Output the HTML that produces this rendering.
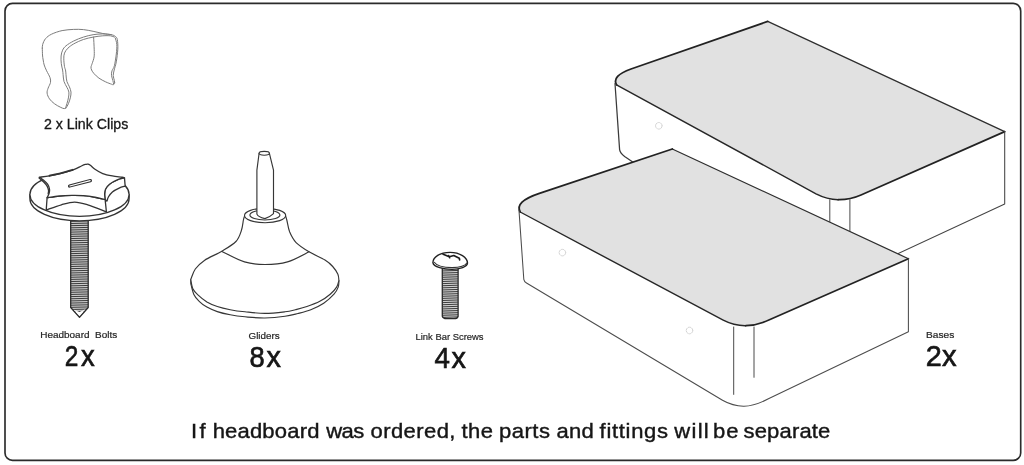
<!DOCTYPE html>
<html>
<head>
<meta charset="utf-8">
<title>Parts</title>
<style>
html,body{margin:0;padding:0;background:#fff;}
body{width:1024px;height:465px;overflow:hidden;font-family:"Liberation Sans",sans-serif;}
svg{display:block;}
text{font-family:"Liberation Sans",sans-serif;}
</style>
</head>
<body>
<svg width="1024" height="465" viewBox="0 0 1024 465">
<rect x="0" y="0" width="1024" height="465" fill="#ffffff"/>
<!-- FRAME -->
<rect x="5" y="3.4" width="1015.7" height="457" rx="7.5" ry="7.5" fill="none" stroke="#2b2b2b" stroke-width="1.65"/>
<!-- BOXES -->
<g id="boxes" stroke-linejoin="round" stroke-linecap="round" fill="none">
<path d="M767.7 21.4 L631 69 Q612 75.5 615 83.5 L619.6 149.6 C620 153 622 154.5 625 156.8 L632 161.5 L861 290 L1004.7 203.9 L1004.7 131.6 Z" fill="#fff" stroke="none"/>
<path d="M767.7 21.4 L631 69 Q611.5 76 616.5 84.8 L816 193.8 Q838 205 861 195 L1004.7 131.6 Z" fill="#e1e1e1" stroke="none"/>
<path d="M1004.7 131.6 L767.7 21.4" stroke="#2e2e2e" stroke-width="1.25"/>
<path d="M616.5 84.8 L816 193.8 Q827 199.4 838.25 199.7" stroke="#262626" stroke-width="1.4"/>
<path d="M767.7 21.4 L631 69 Q611.5 76 616.5 84.8" stroke="#222" stroke-width="1.8"/>
<path d="M838.25 199.7 Q849.5 200 861 195 L1004.7 131.6" stroke="#222" stroke-width="1.7"/>
<path d="M615 83.5 L619.6 149.6 C620 153 622 154.5 625 156.8 L632 161.5 L700 200" stroke="#3a3a3a" stroke-width="1.25"/>
<path d="M829.8 199.7 V240 M849.9 199.7 V240" stroke="#4a4a4a" stroke-width="1"/>
<path d="M1004.7 131.6 V203.9 L880 262" stroke="#444" stroke-width="1.05"/>
<circle cx="658.8" cy="125.8" r="3.3" fill="none" stroke="#cfcfcf" stroke-width="0.9" stroke-dasharray="2.4 1.1"/>
<path d="M672.3 149 L539.4 193.3 Q515 201 518.8 210 L523.8 279.3 Q524.3 281.8 526.5 283 L722.5 400.3 C730 404.6 737 406.3 744 406.2 C752 406 760 403.2 768.4 398.8 L908.4 331.8 L908.4 258.7 Z" fill="#fff" stroke="none"/>
<path d="M672.3 149 L539.4 193.3 Q514.3 201.6 520.2 212 L723.2 320.2 Q745 331.5 770 319.5 L908.4 258.7 Z" fill="#e1e1e1" stroke="none"/>
<path d="M908.4 258.7 L672.3 149" stroke="#2e2e2e" stroke-width="1.25"/>
<path d="M520.2 212 L723.2 320.2 Q734.1 325.85 745.8 325.68" stroke="#262626" stroke-width="1.4"/>
<path d="M672.3 149 L539.4 193.3 Q514.3 201.6 520.2 212" stroke="#222" stroke-width="1.8"/>
<path d="M745.8 325.68 Q757.5 325.5 770 319.5 L908.4 258.7" stroke="#222" stroke-width="1.7"/>
<path d="M519 210.5 L523.8 279.3 Q524.3 281.8 526.5 283 L722.5 400.3 C730 404.6 737 406.3 744 406.2 C752 406 760 403.2 768.4 398.8 L908.4 331.8 V258.7" stroke="#4c4c4c" stroke-width="1.05"/>
<path d="M733.7 327 V394.4 M754 327 V377.3" stroke="#4a4a4a" stroke-width="1"/>
<circle cx="562.4" cy="252.6" r="3.3" fill="none" stroke="#cfcfcf" stroke-width="0.9" stroke-dasharray="2.4 1.1"/>
<circle cx="689.5" cy="330.5" r="3.3" fill="none" stroke="#cfcfcf" stroke-width="0.9" stroke-dasharray="2.4 1.1"/>
</g>
<!-- LINK CLIP -->
<g fill="none" stroke="#7c7c7c" stroke-width="1" stroke-linecap="round" stroke-linejoin="round">
<path d="M42.3 48.2 C42.4 47.6 42.2 46.0 42.7 44.4 C43.2 42.8 44.1 40.3 45.6 38.6 C47.1 36.9 48.8 35.5 51.5 34.2 C54.2 32.9 58.4 31.4 62.1 30.6 C65.8 29.8 70.2 29.6 73.7 29.4 C77.2 29.2 80.2 29.3 83.4 29.6 C86.6 29.9 89.9 30.7 93.1 31.3 C96.3 31.9 99.7 32.9 102.8 33.5 C105.9 34.1 109.4 34.2 111.5 34.7 C113.6 35.2 114.3 35.6 115.3 36.4 C116.3 37.2 116.9 37.4 117.3 39.5 C117.7 41.6 118.0 45.5 117.8 49.2 C117.6 52.9 116.9 58.3 116.3 61.8 C115.7 65.3 114.7 67.7 114.2 70.0 C113.7 72.3 113.2 73.8 113.2 75.6 C113.2 77.3 114.2 79.3 114.4 80.5 C114.6 81.7 114.6 82.5 114.6 82.9"/>
<path d="M42.3 48.2 C42.3 49.3 42.4 53.0 42.5 55.0 C42.6 57.0 42.9 58.3 43.2 60.0 C43.5 61.7 43.6 63.2 44.2 65.0 C44.8 66.8 45.6 68.7 46.6 70.8 C47.6 72.9 49.4 75.7 50.0 77.6 C50.6 79.5 50.8 80.6 50.5 82.4 C50.2 84.2 48.7 86.4 48.1 88.2 C47.5 90.0 46.9 91.3 47.1 93.1 C47.3 94.9 48.3 97.1 49.5 98.9 C50.7 100.7 52.6 102.3 54.4 103.7 C56.2 105.1 58.6 106.3 60.2 107.1 C61.8 107.9 63.0 108.5 64.0 108.6 C65.0 108.7 65.7 107.8 66.0 107.6"/>
<path d="M111.5 34.7 C110.0 34.6 105.9 33.9 102.8 33.9 C99.7 33.9 96.3 34.2 93.1 34.7 C89.9 35.2 86.6 36.1 83.4 37.1 C80.2 38.1 76.6 39.5 73.7 41.0 C70.8 42.5 67.8 44.3 66.0 45.8 C64.2 47.3 63.4 48.5 62.6 50.2 C61.8 51.9 61.3 53.8 61.1 56.0 C60.9 58.2 61.0 61.4 61.3 63.7 C61.5 66.0 62.3 68.2 62.6 70.0 C62.9 71.8 62.9 72.8 63.1 74.7 C63.3 76.6 63.4 79.4 64.0 81.5 C64.6 83.6 66.1 85.5 66.9 87.3 C67.7 89.1 68.7 90.3 68.9 92.1 C69.2 93.9 68.7 96.0 68.4 97.9 C68.1 99.8 67.4 102.0 66.9 103.7 C66.4 105.4 65.7 107.4 65.5 108.1"/>
<path d="M114.4 37.1 C113.8 36.9 112.4 36.0 110.5 35.8 C108.6 35.6 105.7 35.6 102.8 35.8 C99.9 36.0 96.3 36.5 93.1 37.1 C89.9 37.7 86.6 38.4 83.4 39.5 C80.2 40.6 76.3 42.4 73.7 43.9 C71.1 45.4 69.4 46.7 67.9 48.2 C66.4 49.7 65.2 51.3 64.5 53.1 C63.8 54.9 63.8 56.6 63.8 58.9 C63.8 61.1 64.2 64.8 64.5 66.6 C64.8 68.4 65.2 68.7 65.5 70.0 C65.8 71.3 65.8 72.8 66.0 74.7 C66.2 76.6 66.3 79.5 66.9 81.5 C67.5 83.5 68.7 85.0 69.4 86.8 C70.1 88.6 70.8 90.2 71.0 92.1 C71.2 93.9 70.7 96.0 70.3 97.9 C69.9 99.8 69.1 102.0 68.4 103.7 C67.7 105.4 66.4 107.4 66.0 108.1"/>
<path d="M93.6 37.1 C93.7 39.1 94.1 45.9 94.2 49.2 C94.3 52.5 94.4 54.5 94.1 56.9 C93.8 59.3 92.6 62.0 92.1 63.7 C91.6 65.4 91.1 66.0 91.0 67.0 C90.9 68.0 91.1 68.9 91.6 70.0 C92.1 71.1 92.9 72.4 94.1 73.7 C95.3 75.0 97.0 76.7 98.9 78.1 C100.8 79.5 103.6 80.9 105.7 81.9 C107.8 82.9 110.2 83.7 111.5 84.2 C112.8 84.7 112.9 84.9 113.4 84.7 C113.9 84.5 114.4 83.2 114.6 82.9"/>
<path d="M115.3 38.1 C115.5 39.1 116.6 41.8 116.8 44.4 C117.0 47.0 116.7 50.5 116.3 54.0 C115.9 57.5 115.1 62.9 114.4 65.7 C113.7 68.5 112.5 69.2 112.0 70.8 C111.5 72.4 111.3 74.0 111.5 75.6 C111.7 77.2 112.6 79.1 112.9 80.5 C113.2 81.9 113.5 83.3 113.6 83.9"/>
</g>
<!-- HEADBOARD BOLT -->
<clipPath id="c1"><path d="M70.7 216 V307.5 L79.5 317.2 L88.2 307.5 V216 Z"/></clipPath>
<path d="M70.7 216 V307.5 L79.5 317.2 L88.2 307.5 V216 Z" fill="#e0e0e0"/>
<path d="M70.0 221.60 L89.0 222.00 M70.0 223.47 L89.0 223.87 M70.0 225.34 L89.0 225.74 M70.0 227.21 L89.0 227.61 M70.0 229.08 L89.0 229.48 M70.0 230.95 L89.0 231.35 M70.0 232.82 L89.0 233.22 M70.0 234.69 L89.0 235.09 M70.0 236.56 L89.0 236.96 M70.0 238.43 L89.0 238.83 M70.0 240.30 L89.0 240.70 M70.0 242.17 L89.0 242.57 M70.0 244.04 L89.0 244.44 M70.0 245.91 L89.0 246.31 M70.0 247.78 L89.0 248.18 M70.0 249.65 L89.0 250.05 M70.0 251.52 L89.0 251.92 M70.0 253.39 L89.0 253.79 M70.0 255.26 L89.0 255.66 M70.0 257.13 L89.0 257.53 M70.0 259.00 L89.0 259.40 M70.0 260.87 L89.0 261.27 M70.0 262.74 L89.0 263.14 M70.0 264.61 L89.0 265.01 M70.0 266.48 L89.0 266.88 M70.0 268.35 L89.0 268.75 M70.0 270.22 L89.0 270.62 M70.0 272.09 L89.0 272.49 M70.0 273.96 L89.0 274.36 M70.0 275.83 L89.0 276.23 M70.0 277.70 L89.0 278.10 M70.0 279.57 L89.0 279.97 M70.0 281.44 L89.0 281.84 M70.0 283.31 L89.0 283.71 M70.0 285.18 L89.0 285.58 M70.0 287.05 L89.0 287.45 M70.0 288.92 L89.0 289.32 M70.0 290.79 L89.0 291.19 M70.0 292.66 L89.0 293.06 M70.0 294.53 L89.0 294.93 M70.0 296.40 L89.0 296.80 M70.0 298.27 L89.0 298.67 M70.0 300.14 L89.0 300.54 M70.0 302.01 L89.0 302.41 M70.0 303.88 L89.0 304.28 M70.0 305.75 L89.0 306.15 M70.0 307.62 L89.0 308.02 M70.0 309.49 L89.0 309.89 M70.0 311.36 L89.0 311.76 " clip-path="url(#c1)" fill="none" stroke="#333" stroke-width="0.95"/>
<path d="M70.7 216 V307.5 L79.5 317.2 L88.2 307.5 V216 Z" fill="none" stroke="#2a2a2a" stroke-width="1.3" stroke-linejoin="round"/>
<path d="M73.5 309.5 L79.5 312 L85.5 309.2 L79.5 316 Z" fill="#fff" stroke="none"/>
<g transform="translate(35,160) scale(0.09674)" fill="none" stroke="#333" stroke-width="13.5" stroke-linecap="round" stroke-linejoin="round">
<path d="M-52.7 355.6 V401 A512.7 227.4 0 0 0 972.7 401 V355.6 Z" fill="#fff"/>
<ellipse cx="460" cy="355.6" rx="512.7" ry="227.4" fill="#fff"/>
<path d="M925 185 L932 270 L932.0 270.0 C921.7 273.3 892.0 280.0 870.0 290.0 C848.0 300.0 818.3 315.0 800.0 330.0 C781.7 345.0 769.3 364.2 760.0 380.0 C750.7 395.8 746.7 417.5 744.0 425.0 L725 410 L725.0 410.0 C724.2 400.0 719.2 368.3 720.0 350.0 C720.8 331.7 721.7 316.7 730.0 300.0 C738.3 283.3 750.0 265.8 770.0 250.0 C790.0 234.2 824.2 215.8 850.0 205.0 C875.8 194.2 912.5 188.3 925.0 185.0 Z" fill="#fff"/>
<path d="M125 390 L116 517 L116.0 517.0 C142.2 508.0 224.2 476.7 273.0 463.0 C321.8 449.3 363.7 435.0 409.0 435.0 C454.3 435.0 490.2 446.3 545.0 463.0 C599.8 479.7 705.8 523.0 738.0 535.0 L725 410 L725.0 410.0 C707.5 405.8 657.5 392.0 620.0 385.0 C582.5 378.0 540.0 371.3 500.0 368.0 C460.0 364.7 421.7 364.3 380.0 365.0 C338.3 365.7 292.5 367.8 250.0 372.0 C207.5 376.2 145.8 387.0 125.0 390.0 Z" fill="#fff"/>
<path d="M42.0 186.0 C50.0 193.0 76.2 214.0 90.0 228.0 C103.8 242.0 116.7 255.5 125.0 270.0 C133.3 284.5 138.2 301.7 140.0 315.0 C141.8 328.3 136.7 344.2 136.0 350.0"/>
<path d="M45.0 178.0 C62.5 175.8 110.8 172.2 150.0 165.0 C189.2 157.8 238.3 145.8 280.0 135.0 C321.7 124.2 366.7 112.2 400.0 100.0 C433.3 87.8 460.0 71.0 480.0 62.0 C500.0 53.0 509.2 49.3 520.0 46.0 C530.8 42.7 540.8 42.7 545.0 42.0 L545.0 42.0 C549.5 44.0 559.5 45.2 572.0 54.0 C584.5 62.8 598.7 80.7 620.0 95.0 C641.3 109.3 670.0 128.3 700.0 140.0 C730.0 151.7 766.7 158.7 800.0 165.0 C833.3 171.3 879.2 174.7 900.0 178.0 C920.8 181.3 920.8 183.8 925.0 185.0 L925.0 185.0 C912.5 188.3 875.8 194.2 850.0 205.0 C824.2 215.8 790.0 234.2 770.0 250.0 C750.0 265.8 738.3 283.3 730.0 300.0 C721.7 316.7 720.8 331.7 720.0 350.0 C719.2 368.3 724.2 400.0 725.0 410.0 L725.0 410.0 C707.5 405.8 657.5 392.0 620.0 385.0 C582.5 378.0 540.0 371.3 500.0 368.0 C460.0 364.7 421.7 364.3 380.0 365.0 C338.3 365.7 292.5 367.8 250.0 372.0 C207.5 376.2 145.8 387.0 125.0 390.0 L125.0 390.0 C128.5 382.5 141.8 360.0 146.0 345.0 C150.2 330.0 152.7 315.8 150.0 300.0 C147.3 284.2 140.0 265.0 130.0 250.0 C120.0 235.0 104.2 222.0 90.0 210.0 C75.8 198.0 52.5 183.3 45.0 178.0 Z" fill="#fff"/>
<path d="M150.0 163.0 C171.7 158.0 240.0 143.3 280.0 133.0 C320.0 122.7 371.7 106.3 390.0 101.0" stroke-width="19"/>
<path d="M357 269 L573 213" stroke="#333" stroke-width="33"/>
<path d="M360 268.2 L570 213.8" stroke="#fff" stroke-width="12"/>
</g>
<!-- GLIDER -->
<g fill="none" stroke="#363636" stroke-width="1.15" stroke-linecap="round" stroke-linejoin="round">
<path d="M190.8 283.5 C191.3 285.4 192.6 291.8 194.0 294.8 C195.4 297.8 197.0 299.2 199.2 301.3 C201.3 303.4 203.9 305.4 206.9 307.1 C209.9 308.8 213.4 310.3 217.3 311.6 C221.2 312.9 225.6 313.9 230.2 314.8 C234.8 315.7 239.2 316.3 245.0 316.8 C250.8 317.3 258.2 318.1 264.9 318.0 C271.6 317.9 279.5 317.1 285.0 316.3 C290.5 315.6 293.6 314.6 297.9 313.5 C302.2 312.4 306.5 311.4 310.8 309.7 C315.1 308.0 319.8 305.8 323.7 303.2 C327.6 300.6 331.6 296.9 334.0 294.2 C336.4 291.5 337.4 289.2 338.2 287.1 C339.0 285.0 338.8 282.4 338.9 281.5 L338.9 280.6 L190.8 279.4 Z" fill="#fff"/>
<path d="M244.5 216.3 C244.3 216.9 243.9 217.6 243.4 220.0 C242.9 222.4 242.6 227.1 241.3 230.7 C240.1 234.3 239.1 238.1 235.9 241.5 C232.7 244.9 227.2 248.0 221.9 251.2 C216.7 254.3 208.8 257.4 204.4 260.4 C200.0 263.4 197.6 265.8 195.3 269.0 C193.0 272.2 191.6 277.7 190.8 279.4 L190.8 279.4 C191.1 280.9 191.5 285.8 192.7 288.4 C193.9 291.0 195.5 292.6 197.9 294.8 C200.3 297.1 203.7 299.9 206.9 301.9 C210.1 303.8 213.4 305.2 217.3 306.5 C221.2 307.8 225.6 308.8 230.2 309.7 C234.8 310.6 239.2 311.2 245.0 311.8 C250.8 312.4 258.2 313.4 264.9 313.4 C271.6 313.4 279.9 312.4 285.0 311.8 C290.1 311.2 291.7 310.6 295.3 309.7 C298.9 308.8 302.8 307.9 306.9 306.5 C311.0 305.1 315.9 303.4 319.8 301.3 C323.7 299.2 327.4 296.6 330.2 294.2 C333.0 291.8 335.2 289.4 336.6 287.1 C338.1 284.8 338.5 281.7 338.9 280.6 L338.9 280.6 C338.7 279.5 338.9 276.6 337.9 274.2 C336.9 271.8 334.8 268.9 332.7 266.5 C330.6 264.1 328.9 262.4 325.0 260.0 C321.1 257.6 313.8 254.7 309.0 251.8 C304.2 248.9 299.3 245.9 296.1 242.6 C292.9 239.3 291.2 235.6 289.6 231.8 C288.1 228.0 287.5 222.6 286.8 220.0 C286.1 217.4 285.9 216.9 285.7 216.3 Z" fill="#fff"/>
<path d="M221.9 251.4 C225.7 253.2 237.3 259.7 244.5 261.9 C251.7 264.1 257.7 264.5 264.9 264.5 C272.1 264.5 280.1 264.0 287.5 261.9 C294.9 259.8 305.4 253.5 309.0 251.8"/>
<ellipse cx="265.1" cy="215.5" rx="20.6" ry="7.2" fill="#fff"/>
<ellipse cx="264.9" cy="215" rx="15" ry="5"/>
<path d="M259.1 153.3 L256.9 170.1 L256.9 214.1 Q258 217 264.9 218.6 Q270 217 273.5 213.6 L273.5 170.1 L269.4 153.3 Z" fill="#fff"/>
<ellipse cx="264.25" cy="153.3" rx="5.2" ry="1.9" fill="#fff"/>
</g>
<!-- SCREW -->
<clipPath id="c2"><path d="M442.3 266 V316.3 Q443 318.6 446.5 318.7 H454 Q457.6 318.6 458.1 316.3 V266 Z"/></clipPath>
<path d="M442.3 266 V316.3 Q443 318.6 446.5 318.7 H454 Q457.6 318.6 458.1 316.3 V266 Z" fill="#e0e0e0"/>
<path d="M442.0 268.20 L459.0 268.70 M442.0 270.10 L459.0 270.60 M442.0 272.00 L459.0 272.50 M442.0 273.90 L459.0 274.40 M442.0 275.80 L459.0 276.30 M442.0 277.70 L459.0 278.20 M442.0 279.60 L459.0 280.10 M442.0 281.50 L459.0 282.00 M442.0 283.40 L459.0 283.90 M442.0 285.30 L459.0 285.80 M442.0 287.20 L459.0 287.70 M442.0 289.10 L459.0 289.60 M442.0 291.00 L459.0 291.50 M442.0 292.90 L459.0 293.40 M442.0 294.80 L459.0 295.30 M442.0 296.70 L459.0 297.20 M442.0 298.60 L459.0 299.10 M442.0 300.50 L459.0 301.00 M442.0 302.40 L459.0 302.90 M442.0 304.30 L459.0 304.80 M442.0 306.20 L459.0 306.70 M442.0 308.10 L459.0 308.60 M442.0 310.00 L459.0 310.50 M442.0 311.90 L459.0 312.40 M442.0 313.80 L459.0 314.30 M442.0 315.70 L459.0 316.20 M442.0 317.60 L459.0 318.10 M442.0 319.50 L459.0 320.00 " clip-path="url(#c2)" fill="none" stroke="#333" stroke-width="0.95"/>
<path d="M442.3 266 V316.3 Q443 318.6 446.5 318.7 H454 Q457.6 318.6 458.1 316.3 V266" fill="none" stroke="#2a2a2a" stroke-width="1.3" stroke-linejoin="round"/>
<path d="M432.9 262.6 C433 256.9 440 252.5 450 252.4 C460 252.5 467.4 257.3 467.5 263.1 C467.4 266.8 460 269.4 452 269.4 C444 269.3 433.4 267.1 432.9 262.6 Z" fill="#fff" stroke="#222" stroke-width="1.4" stroke-linejoin="round"/>
<path d="M434 262 C436.5 265.6 444 267.5 452 267.6 C459.5 267.5 465.5 265.7 467 262.8" fill="none" stroke="#333" stroke-width="1.1"/>
<path d="M443.2 254.3 L449.3 256.8 L453.8 255.5 L459.3 258.2 L459.6 259.9" fill="none" stroke="#1c1c1c" stroke-width="1.7" stroke-linecap="round" stroke-linejoin="round"/>
<path d="M448.7 255.4 L449.8 258" fill="none" stroke="#1c1c1c" stroke-width="1.3" stroke-linecap="round"/>
<!-- TEXT -->
<defs><filter id="nf" x="0" y="0" width="1024" height="465" filterUnits="userSpaceOnUse" color-interpolation-filters="sRGB"><feOffset dx="0" dy="0"/></filter></defs>
<g fill="#161616" stroke="#161616" stroke-width="0.65" filter="url(#nf)">
<text x="43.9" y="129.1" font-size="14" stroke-width="0.3" textLength="84.4" lengthAdjust="spacingAndGlyphs">2 x Link Clips</text>
<text x="40.2" y="338.1" font-size="9.6" fill="#262626" stroke="#262626" stroke-width="0.2" textLength="77" lengthAdjust="spacingAndGlyphs" xml:space="preserve">Headboard  Bolts</text>
<text x="64.7" y="366" font-size="28.8" textLength="13.6" lengthAdjust="spacingAndGlyphs">2</text><text x="80.9" y="366" font-size="28.8" textLength="13.7" lengthAdjust="spacingAndGlyphs">x</text>
<text x="248.5" y="338.9" font-size="9.6" fill="#262626" stroke="#262626" stroke-width="0.2" textLength="31.2" lengthAdjust="spacingAndGlyphs">Gliders</text>
<text x="249.6" y="366.8" font-size="28.8" textLength="15.2" lengthAdjust="spacingAndGlyphs">8</text><text x="266.4" y="366.8" font-size="28.8">x</text>
<text x="415.5" y="339.9" font-size="9.6" fill="#262626" stroke="#262626" stroke-width="0.2" textLength="68" lengthAdjust="spacingAndGlyphs">Link Bar Screws</text>
<text x="434.6" y="368.3" font-size="28.8" textLength="15.4" lengthAdjust="spacingAndGlyphs">4</text><text x="451.6" y="368.3" font-size="28.8">x</text>
<text x="926.1" y="338.1" font-size="9.6" fill="#262626" stroke="#262626" stroke-width="0.2" textLength="28.2" lengthAdjust="spacingAndGlyphs">Bases</text>
<text x="925.8" y="366.1" font-size="29.2" textLength="16" lengthAdjust="spacingAndGlyphs">2</text><text x="942.1" y="366.1" font-size="29.2">x</text>
<text transform="translate(191.10,437.7) scale(1.08,1)" font-size="20.4" stroke-width="0.4" style="letter-spacing:2.047px">If</text>
<text transform="translate(212.70,437.7) scale(1.08,1)" font-size="20.4" stroke-width="0.4" style="letter-spacing:0.160px">headboard</text>
<text transform="translate(326.27,437.7) scale(1.08,1)" font-size="20.4" stroke-width="0.4" style="letter-spacing:-0.531px">was</text>
<text transform="translate(370.46,437.7) scale(1.08,1)" font-size="20.4" stroke-width="0.4" style="letter-spacing:0.397px">ordered,</text>
<text transform="translate(461.51,437.7) scale(1.08,1)" font-size="20.4" stroke-width="0.4" style="letter-spacing:0.443px">the</text>
<text transform="translate(499.12,437.7) scale(1.08,1)" font-size="20.4" stroke-width="0.4" style="letter-spacing:0.440px">parts</text>
<text transform="translate(556.55,437.7) scale(1.08,1)" font-size="20.4" stroke-width="0.4" style="letter-spacing:0.177px">and</text>
<text transform="translate(599.62,437.7) scale(1.08,1)" font-size="20.4" stroke-width="0.4" style="letter-spacing:0.630px">fittings</text>
<text transform="translate(674.37,437.7) scale(1.08,1)" font-size="20.4" stroke-width="0.4" style="letter-spacing:1.142px">will</text>
<text transform="translate(713.12,437.7) scale(1.08,1)" font-size="20.4" stroke-width="0.4" style="letter-spacing:0.788px">be</text>
<text transform="translate(743.58,437.7) scale(1.08,1)" font-size="20.4" stroke-width="0.4" style="letter-spacing:0.133px">separate</text>
</g>
</svg>
</body>
</html>
